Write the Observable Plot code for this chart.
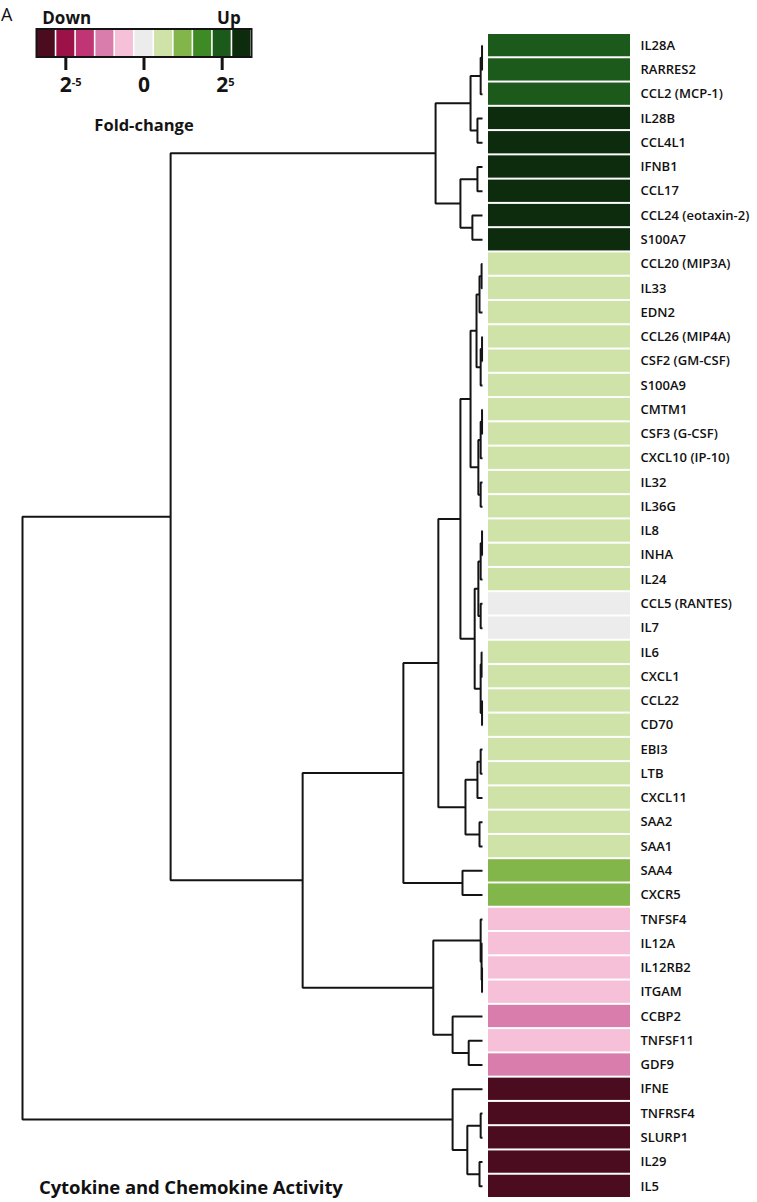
<!DOCTYPE html>
<html><head><meta charset="utf-8">
<script src="https://cdn.jsdelivr.net/npm/d3@7"></script>
<script src="https://cdn.jsdelivr.net/npm/@observablehq/plot@0.6"></script>
<style>
body{margin:0;background:#fff;}
#wrap{position:relative;width:757px;height:1202px;overflow:hidden;font-family:"Open Sans",sans-serif;background:#fff;}
#wrap svg{position:absolute;left:0;top:0;background:transparent;}
#panel{position:absolute;left:1px;top:5px;font:400 18px/18px "Open Sans",sans-serif;color:#111;}
#title{position:absolute;left:39px;top:1178px;font:700 18.5px/18px "Open Sans",sans-serif;color:#111;white-space:nowrap;letter-spacing:-0.1px;}
</style></head><body><div id="wrap"><div id="panel">A</div><div id="title">Cytokine and Chemokine Activity</div></div>
<script>
// ---- data ----
const genes = ["IL28A","RARRES2","CCL2 (MCP-1)","IL28B","CCL4L1","IFNB1","CCL17","CCL24 (eotaxin-2)","S100A7",
  "CCL20 (MIP3A)","IL33","EDN2","CCL26 (MIP4A)","CSF2 (GM-CSF)","S100A9","CMTM1","CSF3 (G-CSF)","CXCL10 (IP-10)","IL32","IL36G",
  "IL8","INHA","IL24","CCL5 (RANTES)","IL7","IL6","CXCL1","CCL22","CD70",
  "EBI3","LTB","CXCL11","SAA2","SAA1","SAA4","CXCR5",
  "TNFSF4","IL12A","IL12RB2","ITGAM","CCBP2","TNFSF11","GDF9",
  "IFNE","TNFRSF4","SLURP1","IL29","IL5"];
// fold-change class (legend bin, -5 … 5)
const foldLevel = [4,4,4,5,5,5,5,5,5,
  1,1,1,1,1,1,1,1,1,1,1,
  1,1,1,0,0,1,1,1,1,
  1,1,1,1,1,2,2,
  -1,-1,-1,-1,-2,-1,-2,
  -5,-5,-5,-5,-5];
// hierarchical clustering merges (hclust style: negative = leaf, positive = earlier merge)
const mergeA = [-1,1,-4,2,-6,-8,5,4, -10,9,-13,11,10,-16,14,-19,15,13, -21,19,-24,20,-26,-28,23,22,18, -30,28,-33,29,27,-35,32, -39,-38,-37,-42,-41,37,34,8, -45,-47,43,-44,42];
const mergeB = [-2,-3,-5,3,-7,-9,6,7, -11,-12,-14,-15,12,-17,-18,-20,16,17, -22,-23,-25,21,-27,-29,24,25,26, -31,-32,-34,30,31,-36,33, -40,35,36,-43,38,39,40,41, -46,-48,44,45,46];
const mergeHeight = [0.1,0.4,1.1,2.6,1.1,2.2,4.8,10.2, 0.2,0.65,0.1,0.4,1.3,0.1,0.4,0.4,0.9,2.6, 0.1,0.4,0.4,0.9,0.2,0.1,0.4,1.7,4.8, 0.4,1.1,0.65,3.7,9.6,4.35,17.2, 0.1,0.2,0.4,3.0,6.5,10.7,39.1,67.8, 0.4,0.65,3.3,6.5,100];
// legend
const legendLevels = [-5,-4,-3,-2,-1,0,1,2,3,4,5];
const legendColors = ["#4a0c1e","#9c1248","#c03674","#d97dac","#f6c0d8","#ececec","#cfe2a8","#82b54a","#3e8a24","#1c5a1c","#0d2c0e"];
const legendTicks = [-4,0,4];
const tickBase = ["2","0","2"];
const tickSup = ["-5","","5"];

// ---- build ----
const FONT = "'Open Sans', sans-serif";
const wrap = document.getElementById("wrap");
const rows = genes.map((g,i)=>({gene:g, level:foldLevel[i], idx:i}));

const nodeY = [];
const yOf = r => r < 0 ? -r-1 : nodeY[r-1];
const hOf = r => r < 0 ? 0 : mergeHeight[r-1];
const dendroPts = [];
mergeA.forEach((a,i)=>{
  const b = mergeB[i], h = mergeHeight[i];
  const ya = yOf(a), yb = yOf(b);
  nodeY[i] = (ya+yb)/2;
  dendroPts.push({id:i,h:hOf(a),y:ya},{id:i,h,y:ya},{id:i,h,y:yb},{id:i,h:hOf(b),y:yb});
});

const W = 757, H = 1202, TOP = 33, BOTTOM = 4;

const dendro = Plot.plot({
  width: W, height: H, marginLeft: 22, marginRight: W-482, marginTop: TOP, marginBottom: BOTTOM,
  style: {background:"transparent"},
  x: {type:"linear", domain:[100,0], axis:null},
  y: {type:"linear", domain:[-0.5, genes.length-0.5], reverse:true, axis:null},
  marks: [
    Plot.line(dendroPts, {x:"h", y:"y", z:"id", stroke:"#141414", strokeWidth:2, strokeLinejoin:"miter", strokeLinecap:"butt"})
  ]
});
wrap.appendChild(dendro);

const heat = Plot.plot({
  width: W, height: H, marginLeft: 488, marginRight: W-630, marginTop: TOP, marginBottom: BOTTOM,
  style: {background:"transparent", fontFamily: FONT},
  x: {type:"band", domain:["fc"], padding:0, round:false, axis:null},
  y: {type:"band", domain:genes, padding:0, round:false, axis:null},
  color: {type:"ordinal", domain:legendLevels, range:legendColors},
  marks: [
    Plot.cell(rows, {x:()=>"fc", y:"gene", fill:"level", insetTop:1, insetBottom:1}),
    Plot.text(rows, {y:"gene", text:"gene", frameAnchor:"right", textAnchor:"start", dx:10,
      fontSize:13, fontWeight:600, fill:"#111", fontFamily:FONT})
  ]
});
wrap.appendChild(heat);

const LW = 270, LH = 140;
const legend = Plot.plot({
  width: LW, height: LH, marginLeft: 36, marginRight: LW-251, marginTop: 28.5, marginBottom: LH-56.5,
  style: {background:"transparent", fontFamily: FONT},
  x: {type:"band", domain:legendLevels, padding:0, round:false, axis:null},
  color: {type:"ordinal", domain:legendLevels, range:legendColors},
  marks: [
    Plot.cell(legendLevels, {x:d=>d, fill:d=>d, insetLeft:0.8, insetRight:0.8}),
    Plot.frame({stroke:"#141414", strokeWidth:2}),
    Plot.axisX(legendTicks, {x:d=>d, anchor:"bottom", label:null, tickSize:13.5, strokeWidth:3, stroke:"#141414",
      tickPadding:7, tickFormat:(d)=>tickBase[legendTicks.indexOf(d)], fontSize:21, fontWeight:700, fill:"#141414"}),
    Plot.text(legendTicks.map((d,i)=>({x:d, s:tickSup[i]})), {x:"x", text:"s", frameAnchor:"bottom",
      textAnchor:"start", dx:6, dy:29, fontSize:11, fontWeight:700, fill:"#141414"}),
    Plot.text([legendLevels[0]], {x:d=>d, text:()=>"Down", frameAnchor:"top", textAnchor:"start", dx:-4, dy:-17,
      fontSize:17, fontWeight:700, fill:"#141414"}),
    Plot.text([legendLevels[legendLevels.length-1]], {x:d=>d, text:()=>"Up", frameAnchor:"top", textAnchor:"end", dx:-1, dy:-17,
      fontSize:17, fontWeight:700, fill:"#141414"}),
    Plot.text([0], {x:d=>d, text:()=>"Fold-change", frameAnchor:"bottom", textAnchor:"middle", dy:74,
      fontSize:16.5, fontWeight:700, fill:"#141414"})
  ]
});
wrap.appendChild(legend);
</script></body></html>
